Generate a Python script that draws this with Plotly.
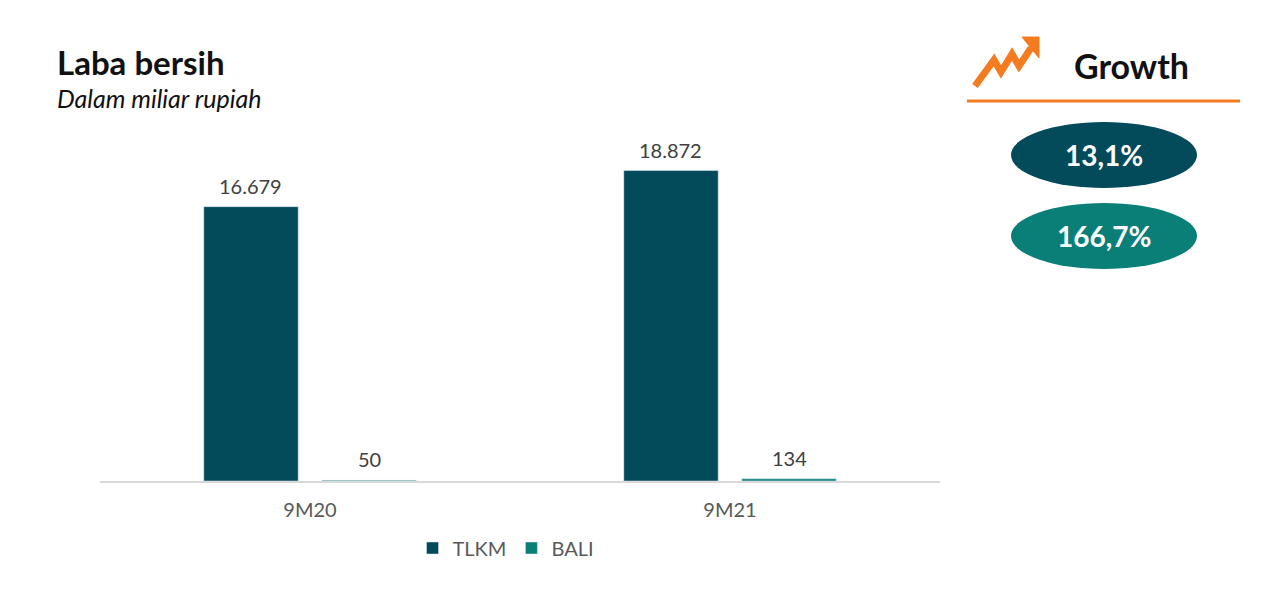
import plotly.graph_objects as go

# data
periods = ["9M20", "9M21"]
tlkm = [16679, 18872]
bali = [50, 134]
growth_labels = ["13,1%", "166,7%"]

dark = "#034a5a"
teal = "#0a7f78"
orange = "#f47b20"
font = "Lato"

W, H = 1282, 607
OFF = 8  # page offset of the plot div
ml, mr, mt, mb = 92, 350, 144, 134
bargap = 0.438


def px(x):  # screen pixel -> paper x
    return (x - OFF - ml) / (W - ml - mr)


def py(y):  # screen pixel -> paper y
    return (H - mb - (y - OFF)) / (H - mt - mb)


def idr(v):
    return f"{v:,}".replace(",", ".")


fig = go.Figure()
fig.add_trace(go.Bar(x=periods, y=tlkm, name="TLKM", marker_color=dark))
fig.add_trace(go.Bar(x=periods, y=bali, name="BALI", marker_color=teal))

# value labels above bars
slot = (W - ml - mr) / len(periods) * (1 - bargap) / 2
annotations = []
for vals, shift in [(tlkm, -slot / 2), (bali, slot / 2)]:
    for p, v in zip(periods, vals):
        annotations.append(dict(x=p, y=v, xref="x", yref="y", text=idr(v),
                                xshift=shift, yshift=7, yanchor="bottom",
                                showarrow=False,
                                font=dict(family=font, size=20, color="#404040")))

shapes = []
# growth underline
shapes.append(dict(type="line", xref="paper", yref="paper",
                   x0=px(967), x1=px(1240), y0=py(101), y1=py(101),
                   line=dict(color=orange, width=3)))
# zigzag arrow icon
zig = [(975, 86), (994, 60), (1001, 72), (1012, 54), (1019, 66), (1031, 48)]
path = "M " + " L ".join(f"{px(a)},{py(b)}" for a, b in zig)
shapes.append(dict(type="path", xref="paper", yref="paper", path=path,
                   line=dict(color=orange, width=7)))
tri = [(1022, 37), (1039, 37), (1039, 58)]
path = "M " + " L ".join(f"{px(a)},{py(b)}" for a, b in tri) + " Z"
shapes.append(dict(type="path", xref="paper", yref="paper", path=path,
                   fillcolor=orange, line=dict(color=orange, width=1)))
# growth ellipses
for cy, col in [(155, dark), (236, teal)]:
    shapes.append(dict(type="circle", xref="paper", yref="paper",
                       x0=px(1011), x1=px(1197), y0=py(cy - 33), y1=py(cy + 33),
                       fillcolor=col, line=dict(width=0)))

texts = [
    dict(text="<b>Laba bersih</b>", x=px(55), y=py(62), xanchor="left",
         yanchor="middle", font=dict(family=font, size=33, color="#111111")),
    dict(text="<i>Dalam miliar rupiah</i>", x=px(55), y=py(98), xanchor="left",
         yanchor="middle", font=dict(family=font, size=25, color="#111111")),
    dict(text="<b>Growth</b>", x=px(1131), y=py(66), xanchor="center",
         yanchor="middle", font=dict(family=font, size=34, color="#111111")),
]
for lbl, cy in zip(growth_labels, [155, 236]):
    texts.append(dict(text=f"<b>{lbl}</b>", x=px(1104), y=py(cy),
                      xanchor="center", yanchor="middle",
                      font=dict(family=font, size=28, color="white")))
for a in texts:
    a.update(xref="paper", yref="paper", showarrow=False)
annotations += texts

fig.update_layout(
    width=W, height=H,
    margin=dict(l=ml, r=mr, t=mt, b=mb),
    paper_bgcolor="white", plot_bgcolor="white",
    barmode="group", bargap=bargap, bargroupgap=0.2,
    font=dict(family=font, color="#595959"),
    xaxis=dict(showline=True, linecolor="#d9d9d9", linewidth=1.5,
               ticks="", tickfont=dict(size=20, color="#595959"),
               ticklabelstandoff=10, showgrid=False),
    yaxis=dict(range=[0, 20000], visible=False, showgrid=False),
    legend=dict(orientation="h", x=px(506), xanchor="center", y=py(548),
                yanchor="middle", font=dict(size=20, color="#595959"),
                itemwidth=30),
    shapes=shapes,
    annotations=annotations,
    showlegend=True,
)

fig.write_html("out.html")
